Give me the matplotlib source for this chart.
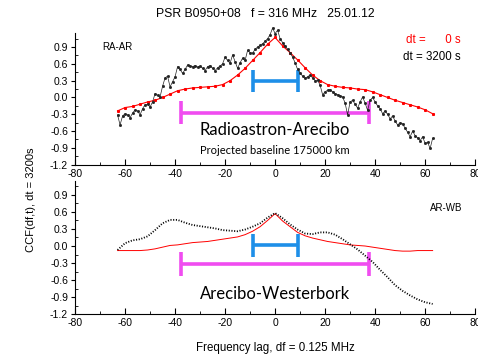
import numpy as np
import matplotlib
matplotlib.use('Agg')
import matplotlib.pyplot as plt
from matplotlib.ticker import MultipleLocator, FixedLocator

plt.rcParams['font.family'] = ['Liberation Sans', 'DejaVu Sans']
plt.rcParams['axes.unicode_minus'] = False

# frequency lag grids
lag1 = list(range(-63, 64))       # step 1
lag3 = list(range(-63, 64, 3))    # step 3

# Radioastron-Arecibo, dt = 3200 s (step 1)
ra_ar_3200 = [
    -0.31, -0.49, -0.33, -0.29, -0.31, -0.36, -0.28, -0.22, -0.24, -0.31,
    -0.20, -0.13, -0.12, -0.17, -0.08, 0.07, 0.04, 0.01, 0.20, 0.35,
    0.38, 0.19, 0.28, 0.37, 0.55, 0.50, 0.43, 0.50, 0.58, 0.56,
    0.55, 0.57, 0.54, 0.56, 0.52, 0.48, 0.55, 0.57, 0.52, 0.48,
    0.53, 0.56, 0.60, 0.72, 0.66, 0.61, 0.76, 0.64, 0.52, 0.62,
    0.70, 0.66, 0.84, 0.80, 0.79, 0.86, 0.90, 0.93, 0.96, 1.00,
    1.05, 1.12, 1.24, 1.14, 1.20, 1.05, 0.98, 0.92, 0.86, 0.80,
    0.72, 0.62, 0.50, 0.44, 0.38, 0.34, 0.37, 0.40, 0.35, 0.30,
    0.31, 0.22, 0.05, 0.10, 0.13, 0.14, 0.10, 0.07, 0.05, 0.03,
    0.01, -0.10, -0.31, -0.08, -0.05, -0.12, -0.19, -0.08, 0.01, -0.10,
    -0.23, -0.05, 0.00, -0.08, -0.15, -0.20, -0.29, -0.24, -0.30, -0.38,
    -0.33, -0.42, -0.49, -0.45, -0.47, -0.55, -0.62, -0.70, -0.60, -0.68,
    -0.72, -0.77, -0.70, -0.82, -0.80, -0.91, -0.73,
]

# Radioastron-Arecibo, dt = 0 s (step 3)
ra_ar_0 = [
    -0.24, -0.18, -0.16, -0.12, -0.08, -0.05, 0.00, 0.06, 0.12, 0.15,
    0.17, 0.18, 0.19, 0.20, 0.23, 0.30, 0.40, 0.52, 0.66, 0.80,
    0.95, 1.07, 0.92, 0.80, 0.67, 0.53, 0.40, 0.30, 0.23, 0.20,
    0.18, 0.17, 0.15, 0.14, 0.10, 0.05, 0.00, -0.05, -0.09, -0.13,
    -0.17, -0.22, -0.29,
]

# Arecibo-Westerbork, dt = 3200 s (step 3)
ar_wb_3200 = [
    -0.07, 0.05, 0.10, 0.12, 0.17, 0.28, 0.40, 0.46, 0.46, 0.41,
    0.37, 0.35, 0.33, 0.31, 0.28, 0.27, 0.26, 0.29, 0.34, 0.40,
    0.50, 0.58, 0.49, 0.38, 0.29, 0.22, 0.21, 0.24, 0.24, 0.20,
    0.12, 0.03, -0.06, -0.17, -0.28, -0.42, -0.55, -0.69, -0.79, -0.87,
    -0.94, -0.99, -1.02,
]

# Arecibo-Westerbork, dt = 0 s (step 3)
ar_wb_0 = [
    -0.08, -0.08, -0.08, -0.08, -0.07, -0.05, -0.02, 0.01, 0.02, 0.04,
    0.06, 0.07, 0.08, 0.10, 0.12, 0.14, 0.16, 0.20, 0.26, 0.34,
    0.45, 0.57, 0.44, 0.34, 0.24, 0.18, 0.14, 0.11, 0.08, 0.06,
    0.04, 0.02, 0.01, 0.00, -0.02, -0.04, -0.06, -0.08, -0.09, -0.09,
    -0.08, -0.08, -0.08,
]

# scale bars: (half width, level)
blue_half = 9
pink_half = 37.5
top_levels = (0.29, -0.27)
bot_levels = (0.01, -0.31)

yticks = [-1.2, -0.9, -0.6, -0.3, 0.0, 0.3, 0.6, 0.9]

fig = plt.figure(figsize=(4.78, 3.55), dpi=100)
ax1 = fig.add_axes([0.157, 0.536, 0.837, 0.371])
ax2 = fig.add_axes([0.157, 0.115, 0.837, 0.376])

BLUE = '#1e8fe8'
PINK = '#f04cf0'


def style(ax):
    ax.set_xlim(-80, 80)
    ax.set_ylim(-1.2, 1.15)
    for s in ['top', 'right']:
        ax.spines[s].set_visible(False)
    ax.spines['left'].set_linewidth(0.8)
    ax.spines['bottom'].set_linewidth(0.8)
    ax.xaxis.set_major_locator(MultipleLocator(20))
    ax.xaxis.set_minor_locator(MultipleLocator(10))
    ax.yaxis.set_major_locator(FixedLocator(yticks))
    ax.yaxis.set_minor_locator(MultipleLocator(0.15))
    ax.set_yticklabels(['%.1f' % v for v in yticks])
    ax.tick_params(axis='x', which='both', direction='in', labelsize=7.5, pad=3)
    ax.tick_params(axis='x', which='major', length=4)
    ax.tick_params(axis='x', which='minor', length=2.5)
    ax.tick_params(axis='y', which='major', direction='out', length=3, labelsize=7.5, pad=2)
    ax.tick_params(axis='y', which='minor', direction='in', length=2)


def bars(ax, levels, cap_b, cap_p):
    yb, yp = levels
    ax.plot([-blue_half, blue_half], [yb, yb], color=BLUE, lw=2.6, solid_capstyle='butt')
    for xx in (-blue_half, blue_half):
        ax.plot([xx, xx], [yb - cap_b, yb + cap_b], color=BLUE, lw=2.6, solid_capstyle='butt')
    ax.plot([-pink_half, pink_half], [yp, yp], color=PINK, lw=2.6, solid_capstyle='butt')
    for xx in (-pink_half, pink_half):
        ax.plot([xx, xx], [yp - cap_p, yp + cap_p], color=PINK, lw=2.6, solid_capstyle='butt')


# top panel
style(ax1)
bars(ax1, top_levels, 0.2, 0.2)
ax1.plot(lag3, ra_ar_0, color='red', lw=0.8, marker='s', ms=1.2, clip_on=False)
ax1.plot(lag1, ra_ar_3200, color='#222222', lw=0.5, marker='s', ms=1.0, clip_on=False)
ax1.text(-69, 0.9, 'RA-AR', fontsize=7, va='center')
ax1.text(74, 1.03, 'dt =      0 s', color='red', fontsize=8.3, ha='right', va='center')
ax1.text(74, 0.72, 'dt = 3200 s', color='black', fontsize=8.3, ha='right', va='center')
ax1.text(0, -0.58, 'Radioastron-Arecibo', fontsize=12, ha='center', va='center',
         family=['Lato', 'DejaVu Sans'])
ax1.text(0, -0.94, 'Projected baseline 175000 km', fontsize=8, ha='center', va='center',
         family=['Lato', 'DejaVu Sans'])

# bottom panel
style(ax2)
bars(ax2, bot_levels, 0.21, 0.21)
ax2.plot(lag3, ar_wb_0, color='red', lw=0.7, clip_on=False)
ax2.plot(lag3, ar_wb_3200, color='black', lw=1.3, ls=(0, (0.6, 0.9)), clip_on=False)
ax2.text(75, 0.67, 'AR-WB', fontsize=7, ha='right', va='center')
ax2.text(0, -0.85, 'Arecibo-Westerbork', fontsize=12, ha='center', va='center',
         family=['Lato', 'DejaVu Sans'])
ax2.set_xlabel('Frequency lag, df = 0.125 MHz', fontsize=8.3, labelpad=10)

fig.text(0.556, 0.96, 'PSR B0950+08   f = 316 MHz   25.01.12', fontsize=8.8, ha='center', va='center')
fig.text(0.065, 0.437, 'CCF(df,t), dt = 3200s', fontsize=8, rotation=90, ha='center', va='center')

fig.savefig('out.png', dpi=100)
